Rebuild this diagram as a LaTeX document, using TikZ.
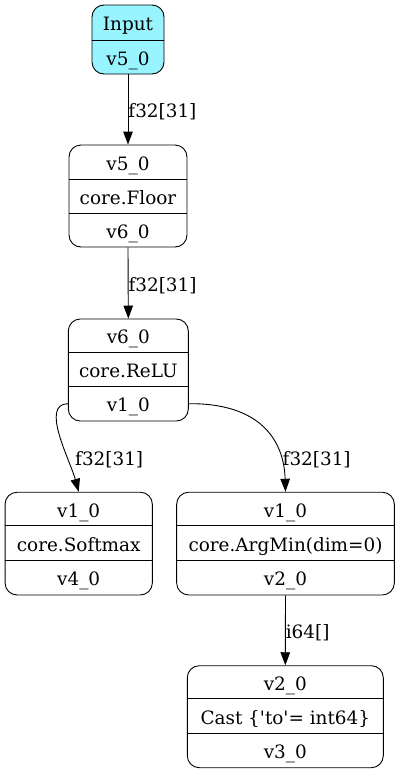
\documentclass[tikz,border=0pt]{standalone}
\usepackage{fontspec}
\setmainfont{DejaVu Serif}
\usetikzlibrary{arrows.meta}
\definecolor{inputcyan}{HTML}{98F5FF}
\begin{document}
\begin{tikzpicture}[x=1pt,y=-1pt,
  rec/.style={draw, rounded corners=12pt, line width=0.9pt, inner sep=0pt},
  txt/.style={inner sep=0pt, text height=18pt, text depth=2pt, font=\fontsize{18.4}{22}\selectfont},
  lab/.style={txt, anchor=west},
  arr/.style={-{Triangle[length=13pt,width=9.5pt]}, line width=0.9pt},
  div/.style={line width=0.9pt}]
\useasboundingbox (0,0) rectangle (400,774);
% Input
\node[rec, fill=inputcyan, minimum width=72pt, minimum height=69pt] (in) at (128,39.5) {};
\draw[div] (in.west |- 0,40) -- (in.east |- 0,40);
\node[txt] (in1) at (128,22.5) {Input};
\node[txt] (in2) at (128,57) {v5\_0};
% Floor
\node[rec, minimum width=118pt, minimum height=102pt] (fl) at (128,196) {};
\draw[div] (fl.west |- 0,179) -- (fl.east |- 0,179);
\draw[div] (fl.west |- 0,213) -- (fl.east |- 0,213);
\node[txt] (fl1) at (128,162) {v5\_0};
\node[txt] (fl2) at (128,196) {core.Floor};
\node[txt] (fl3) at (128,230) {v6\_0};
% ReLU
\node[rec, minimum width=120pt, minimum height=102pt] (re) at (128.3,370) {};
\draw[div] (re.west |- 0,352.5) -- (re.east |- 0,352.5);
\draw[div] (re.west |- 0,386.5) -- (re.east |- 0,386.5);
\node[txt] (re1) at (128.3,335.7) {v6\_0};
\node[txt] (re2) at (128.3,369.5) {core.ReLU};
\node[txt] (re3) at (128.3,403.7) {v1\_0};
% Softmax
\node[rec, minimum width=147.3pt, minimum height=102.7pt] (sm) at (78.7,543.6) {};
\draw[div] (sm.west |- 0,525.7) -- (sm.east |- 0,525.7);
\draw[div] (sm.west |- 0,560) -- (sm.east |- 0,560);
\node[txt] (sm1) at (78.7,509) {v1\_0};
\node[txt] (sm2) at (78.7,543) {core.Softmax};
\node[txt] (sm3) at (78.7,577.5) {v4\_0};
% ArgMin
\node[rec, minimum width=217.7pt, minimum height=102.7pt] (am) at (285.5,543.6) {};
\draw[div] (am.west |- 0,525.7) -- (am.east |- 0,525.7);
\draw[div] (am.west |- 0,560) -- (am.east |- 0,560);
\node[txt] (am1) at (285.5,509) {v1\_0};
\node[txt] (am2) at (285.5,543) {core.ArgMin(dim=0)};
\node[txt] (am3) at (285.5,577.5) {v2\_0};
% Cast
\node[rec, minimum width=196pt, minimum height=102pt] (ca) at (285.3,716.7) {};
\draw[div] (ca.west |- 0,698.3) -- (ca.east |- 0,698.3);
\draw[div] (ca.west |- 0,733.3) -- (ca.east |- 0,733.3);
\node[txt] (ca1) at (285.3,682) {v2\_0};
\node[txt] (ca2) at (285.3,716) {Cast \{\textquotesingle to\textquotesingle= int64\}};
\node[txt] (ca3) at (285.3,750.5) {v3\_0};
% Edges
\draw[arr] (in.south) -- (fl.north) node[lab, pos=0.5] (l1) {f32[31]};
\draw[arr] (fl.south) -- (re.north) node[lab, pos=0.5] (l2) {f32[31]};
\draw[arr] (re.west |- re3) .. controls (40,404) and (70,460) .. (sm.north);
\node[lab] (l3) at (75,457) {f32[31]};
\draw[arr] (re.east |- re3) .. controls (260,403) and (284,440) .. (am.north);
\node[lab] (l4) at (282.5,457) {f32[31]};
\draw[arr] (am.south) -- (ca.north) node[lab, pos=0.5] (l5) {i64[]};
\end{tikzpicture}
\end{document}
